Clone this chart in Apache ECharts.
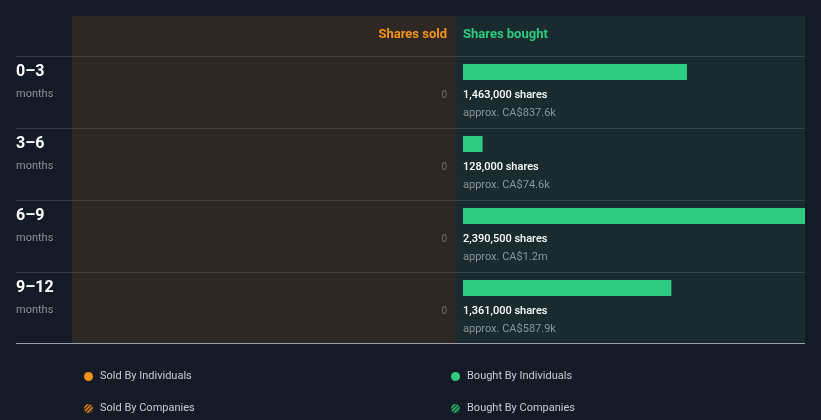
<!DOCTYPE html>
<html>
<head>
<meta charset="utf-8">
<script src="https://cdn.jsdelivr.net/npm/echarts@6/dist/echarts.min.js"></script>
<style>
html,body{margin:0;padding:0;background:#151b26;}
#c{width:821px;height:420px;}
</style>
</head>
<body>
<div id="c"></div>
<script>
// ---- data ----
const categories = ['0–3', '3–6', '6–9', '9–12'];
const periodUnit = 'months';
const sharesSold = [0, 0, 0, 0];
const sharesBought = [1463000, 128000, 2390500, 1361000];
const boughtValueLabels = ['approx. CA$837.6k', 'approx. CA$74.6k', 'approx. CA$1.2m', 'approx. CA$587.9k'];
const axisMax = 2234000;
const headerSold = 'Shares sold';
const headerBought = 'Shares bought';
const legendNames = ['Sold By Individuals', 'Sold By Companies', 'Bought By Individuals', 'Bought By Companies'];

// ---- colours ----
const ORANGE = '#f7931a';
const GREEN = '#2ecc80';
const FONT = 'Roboto, "Noto Sans", sans-serif';

function stripe(base, line) {
  const cv = document.createElement('canvas');
  cv.width = 4; cv.height = 4;
  const ctx = cv.getContext('2d');
  ctx.fillStyle = base; ctx.fillRect(0, 0, 4, 4);
  ctx.strokeStyle = line; ctx.lineWidth = 1.2;
  ctx.beginPath();
  ctx.moveTo(0, 4); ctx.lineTo(4, 0);
  ctx.moveTo(-1, 1); ctx.lineTo(1, -1);
  ctx.moveTo(3, 5); ctx.lineTo(5, 3);
  ctx.stroke();
  return { image: cv, repeat: 'repeat' };
}

const chart = echarts.init(document.getElementById('c'), null, { renderer: 'canvas' });

const TOP = 56, ROWH = 72, NROW = categories.length;
const lines = [];
[56, 128, 200, 272].forEach(y => lines.push({
  type: 'rect', z: 1, silent: true,
  shape: { x: 16, y: y, width: 789, height: 1 },
  style: { fill: 'rgba(255,255,255,0.12)' }
}));
lines.push({
  type: 'rect', z: 5, silent: true,
  shape: { x: 16, y: 343, width: 789, height: 1 },
  style: { fill: '#9aa0a6' }
});

function boughtItem(params, api) {
  const idx = api.value(0);
  const val = api.value(1);
  const base = api.coord([0, idx]);
  const end = api.coord([val, idx]);
  const cs = params.coordSys;
  const x0 = base[0];
  const x1 = Math.min(end[0], cs.x + cs.width);
  const cy = base[1];
  return {
    type: 'group',
    children: [
      { type: 'rect', shape: { x: x0, y: cy - 28, width: x1 - x0, height: 16 }, style: { fill: GREEN } },
      { type: 'text', style: { x: x0, y: cy + 3, text: sharesBought[idx].toLocaleString('en-US') + ' shares',
          fill: '#ffffff', fontSize: 11, fontWeight: 500, fontFamily: FONT, verticalAlign: 'middle', align: 'left' } },
      { type: 'text', style: { x: x0, y: cy + 21, text: boughtValueLabels[idx],
          fill: '#8a9699', fontSize: 11, fontFamily: FONT, verticalAlign: 'middle', align: 'left' } }
    ]
  };
}

function soldItem(params, api) {
  const idx = api.value(0);
  const val = api.value(1);
  const base = api.coord([0, idx]);
  const end = api.coord([val, idx]);
  const cy = base[1];
  const children = [
    { type: 'text', style: { x: end[0] - 8, y: cy + 3, text: String(val),
        fill: '#6f6a64', fontSize: 10, fontFamily: FONT, verticalAlign: 'middle', align: 'right' } }
  ];
  if (base[0] - end[0] > 0.5) {
    children.unshift({ type: 'rect', shape: { x: end[0], y: cy - 28, width: base[0] - end[0], height: 16 }, style: { fill: ORANGE } });
  }
  return { type: 'group', children: children };
}

function emptyItem() { return { type: 'group', children: [] }; }

const legendCommon = {
  orient: 'vertical', padding: 0, itemWidth: 9, itemHeight: 9, itemGap: 0,
  selectedMode: false,
  textStyle: { color: '#c8ccd1', fontSize: 11, fontFamily: FONT, padding: [0, 0, 0, 2] }
};

chart.setOption({
  backgroundColor: '#151b26',
  animation: false,
  textStyle: { fontFamily: FONT },
  graphic: [
    { type: 'rect', z: 0, silent: true, shape: { x: 72, y: 16, width: 383, height: 327 }, style: { fill: '#2d2823' } },
    { type: 'rect', z: 0, silent: true, shape: { x: 455, y: 16, width: 350, height: 327 }, style: { fill: '#192b2f' } },
    { type: 'text', z: 3, silent: true, style: { x: 447, y: 35, text: headerSold, fill: ORANGE, fontSize: 13, fontWeight: 'bold', fontFamily: FONT, align: 'right', verticalAlign: 'middle' } },
    { type: 'text', z: 3, silent: true, style: { x: 463, y: 35, text: headerBought, fill: GREEN, fontSize: 13, fontWeight: 'bold', fontFamily: FONT, align: 'left', verticalAlign: 'middle' } }
  ].concat(lines),
  legend: [
    Object.assign({}, legendCommon, { left: 84, top: 371, data: [{ name: legendNames[0], icon: 'circle' }] }),
    Object.assign({}, legendCommon, { left: 84, top: 403, data: [{ name: legendNames[1], icon: 'circle' }] }),
    Object.assign({}, legendCommon, { left: 451, top: 371, data: [{ name: legendNames[2], icon: 'circle' }] }),
    Object.assign({}, legendCommon, { left: 451, top: 403, data: [{ name: legendNames[3], icon: 'circle' }] })
  ],
  grid: [
    { left: 72, width: 383, top: TOP, height: ROWH * NROW, containLabel: false },
    { left: 463, width: 342, top: TOP, height: ROWH * NROW, containLabel: false }
  ],
  xAxis: [
    { gridIndex: 0, type: 'value', min: 0, max: axisMax, inverse: true, show: false },
    { gridIndex: 1, type: 'value', min: 0, max: axisMax, show: false }
  ],
  yAxis: [
    {
      gridIndex: 0, type: 'category', data: categories, inverse: true,
      axisLine: { show: false }, axisTick: { show: false }, splitLine: { show: false },
      axisLabel: {
        show: true, margin: 56, align: 'left',
        formatter: v => '{a|' + v + '}\n{b|' + periodUnit + '}\n{c| }',
        rich: {
          a: { color: '#ffffff', fontSize: 16, fontWeight: 'bold', fontFamily: FONT, lineHeight: 22 },
          b: { color: '#8c9198', fontSize: 11, fontFamily: FONT, lineHeight: 22 },
          c: { fontSize: 11, lineHeight: 18 }
        }
      }
    },
    { gridIndex: 1, type: 'category', data: categories, inverse: true, show: false }
  ],
  series: [
    {
      name: legendNames[0], type: 'custom', xAxisIndex: 0, yAxisIndex: 0,
      itemStyle: { color: ORANGE },
      encode: { x: 1, y: 0 },
      data: sharesSold.map((v, i) => [i, v]),
      renderItem: soldItem, z: 4
    },
    { name: legendNames[1], type: 'custom', xAxisIndex: 0, yAxisIndex: 0, data: [], renderItem: emptyItem, itemStyle: { color: stripe('#4a3418', ORANGE) } },
    {
      name: legendNames[2], type: 'custom', xAxisIndex: 1, yAxisIndex: 1,
      itemStyle: { color: GREEN },
      encode: { x: 1, y: 0 },
      data: sharesBought.map((v, i) => [i, v]),
      renderItem: boughtItem, z: 4
    },
    { name: legendNames[3], type: 'custom', xAxisIndex: 1, yAxisIndex: 1, data: [], renderItem: emptyItem, itemStyle: { color: stripe('#174a35', GREEN) } }
  ]
});
</script>
</body>
</html>
